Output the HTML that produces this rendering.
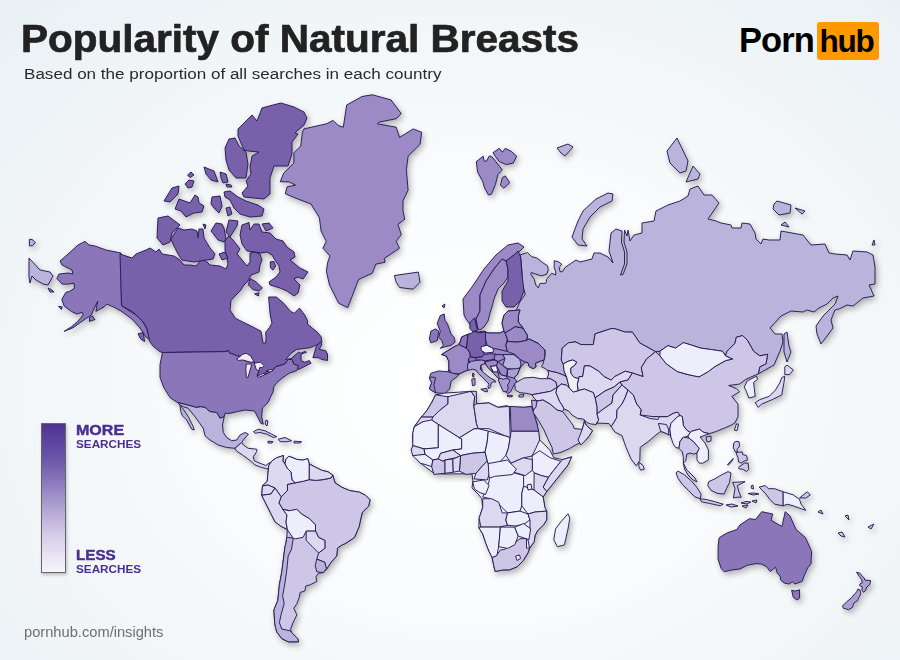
<!DOCTYPE html>
<html><head><meta charset="utf-8">
<style>
html,body{margin:0;padding:0;}
body{width:900px;height:660px;position:relative;overflow:hidden;
background:radial-gradient(ellipse 650px 520px at 470px 390px,#ffffff 0%,#fbfcfd 35%,#f2f6f8 70%,#eaf1f5 100%);
font-family:"Liberation Sans",sans-serif;}
.tx{position:absolute;white-space:nowrap;transform-origin:0 0;line-height:1.15;}
.t{left:20.6px;top:15.6px;font-size:39.5px;font-weight:bold;color:#222;-webkit-text-stroke:0.7px #222;transform:scaleX(1.025);}
.st{left:23.8px;top:65.4px;font-size:15.5px;color:#2a2a2a;transform:scaleX(1.101);}
.logo1{left:739px;top:20.5px;font-size:34.5px;font-weight:bold;color:#000;letter-spacing:-0.9px;}
.logobox{position:absolute;left:817px;top:22px;width:62px;height:38px;background:#ff9900;border-radius:3px;}
.logo2{left:819.5px;top:23px;font-size:31.5px;font-weight:bold;color:#000;letter-spacing:-1.3px;}
.bar{position:absolute;left:41px;top:423px;width:23px;height:148px;border:1px solid #666;box-shadow:1px 2px 3px rgba(0,0,0,0.22);background:linear-gradient(#4d3394 0%,#6d58aa 25%,#a193cb 50%,#d5cce8 75%,#f8f5fc 100%);}
.lg1{font-size:14.8px;font-weight:bold;color:#4b2f90;-webkit-text-stroke:0.45px #4b2f90;}
.lg2{font-size:10.4px;font-weight:bold;color:#4b2f90;}
.ft{left:24.4px;top:624.0px;font-size:14.2px;color:#6f6f6f;transform:scaleX(1.034);}
</style></head><body>
<svg width="900" height="660" viewBox="0 0 900 660" style="position:absolute;left:0;top:0">
<defs>
<filter id="sh" x="-5%" y="-5%" width="110%" height="110%">
<feGaussianBlur in="SourceAlpha" stdDeviation="3"/>
<feOffset dx="2" dy="3" result="b"/>
<feComponentTransfer><feFuncA type="linear" slope="0.3"/></feComponentTransfer>
<feMerge><feMergeNode/><feMergeNode in="SourceGraphic"/></feMerge>
</filter>
</defs>
<g filter="url(#sh)" stroke="#261a52" stroke-width="0.95" stroke-linejoin="round">
<path fill="#8a76b8" d="M60,261 67,255 78,245 85,241.4 89,245 95,246 106,250 121,253 121.5,305.6 128,310 136,315 143,322 147,329 150,340 146,337 140,328 132,319 121,311 113.2,306.8 106.8,304.1 104.1,306.8 95.9,311.4 97.7,301.4 93.2,310.5 91.4,315 85.9,318.6 79.5,323.2 73.2,327.7 64.1,331.4 71.4,326.8 77.7,321.4 83.2,315 82.3,312.3 76.8,314.1 71.4,311.4 64.1,305.9 61.8,299.5 65.9,292.3 69.5,291.4 74.5,288.2 74.1,283.2 68.6,284.1 62.3,284.1 56.8,278.6 59,274 68,273 73,274 72,270 62,265Z"/>
<path fill="#8a76b8" d="M89.5,317.7 92.3,315.9 95,319.5 89.5,321.4Z"/>
<path fill="#8a76b8" d="M58.6,306.4 62.3,306.8 61.4,309.5Z"/>
<path fill="#bab3dc" d="M29.4,239.4 32,239.4 35.3,242.5 32.5,245.8 29.4,245.8Z"/>
<path fill="#8a76b8" d="M48,288 52,290 54,292 50,292Z"/>
<path fill="#bab3dc" d="M29,258 40,270 50,272 53,276 48,285 43,284 36,280 32,276 30,283 29,277Z"/>
<path fill="#7961ab" d="M120,254 132,258 136,254 146,250 150,248 156,252 159,249 162,254 174,256 180,260 184,265 190,265 196,266 202,259 207,262 210,265 220,266 226,269 228,264 227,258 225,250 225,240 229,236 233,240 237,245 240,249 237,254 243,261 247,266 250,262 250,253 255,252 260,254 262,260 260,265 259,272 251,275 248,281 244,285 240,291 235,296 231,300.5 230,310 235.5,318.4 250.9,326 261,331.2 263,343 265.6,343.2 266.1,337.7 265.6,332.3 269.3,327.7 272,323.2 270.2,315 268.6,297 276.4,297 284,303.6 290.5,311.4 294.4,313.3 299.5,308 304.7,315 307.5,320.5 307.5,324.1 312.9,328.6 317.5,332.3 321.1,336.8 322,342.3 316.5,345 310.2,347.7 302.9,348.6 296.5,349.5 291.1,353.2 285.6,359.5 291.1,358.6 298.4,352.3 301.1,353.2 304.7,351.4 306.5,352.3 301.1,354.1 301.1,360.5 304.7,362.3 309.3,360.5 311.1,363.2 298.4,369.5 296.5,365.9 293.8,364.1 292,359.5 288.4,359.5 284.7,364.1 275.6,366.8 273,370.2 266.8,373.8 258.8,376.4 257,375.6 258.8,371.1 254.3,362.2 246.3,361.3 240.1,356.4 236.6,355.6 229.4,352.9 228.6,350.7 225,351.6 162.5,352.5 160,351.7 153.5,346.6 149.7,341.5 147,328.7 143.3,322 133,312 121.5,305.6Z"/>
<path fill="#7961ab" d="M187.6,175 191,172 194,175 190,177.6Z"/>
<path fill="#7961ab" d="M185,184 189,180 194,181 192,187 188,188Z"/>
<path fill="#7961ab" d="M164,201 172,188 179,186 178,194 170,202Z"/>
<path fill="#7961ab" d="M175,209 179,199 190,203 195,195 198,197 199,203 204,206 202,212 194,213 186,217 181,211Z"/>
<path fill="#7961ab" d="M204,167 214,171 218,182 211,180 206,174Z"/>
<path fill="#7961ab" d="M220,172 226,174 228,182 223,183 221,178Z"/>
<path fill="#7961ab" d="M226,184 231,185 232,187 227,187Z"/>
<path fill="#7961ab" d="M212,197 220,196 222,206 219,213 214,208 211,204Z"/>
<path fill="#7961ab" d="M224,192 230,191 238,197 246,201 258,205 264,209 262,216 250,217 240,214 234,208 230,200 225,197Z"/>
<path fill="#7961ab" d="M226,208 230,207 232,214 228,216Z"/>
<path fill="#7961ab" d="M158,218 168,216 180,225 172,233 170,242 163,245 157,238Z"/>
<path fill="#7961ab" d="M171,239 178,228 184,230 192,229 197,231 198,238 199,229 203,229 204,238 210,248 215,254 213,259 206,260 194,262 182,260 178,254 174,246Z"/>
<path fill="#7961ab" d="M203,224 206,225 205,229Z"/>
<path fill="#7961ab" d="M211,231 216,223 222,224 224,228 226,239 224,242 218,240Z"/>
<path fill="#7961ab" d="M226,232 229,220 238,221 237,226 230,237Z"/>
<path fill="#7961ab" d="M219,254 225,252 228,258 222,260Z"/>
<path fill="#7961ab" d="M242,225 249,222.5 250,230 254,224 259,224 262,232 270,233 276,239 283,241 287,247 294,252 295,257 290,260 300,268 308,272 303,279 298,277 294,279 300,285 298,293 294,296 287,291 280,288 270,285 269,282 276,277 280,272 279,266 275,260 272,255 267,252 261,253 255,252 247,251 242,244 240,235Z"/>
<path fill="#7961ab" d="M262,224 269,223 273,228 266,231Z"/>
<path fill="#7961ab" d="M270.2,261.8 274,261.5 275.6,266 273,270.1 270.5,268Z"/>
<path fill="#7961ab" d="M250,278.6 256,281.8 262.4,288 259,291 253,289.6 248.4,285Z"/>
<path fill="#7961ab" d="M254.6,294 259,292.7 258.5,296Z"/>
<path fill="#7961ab" d="M138,333.8 143.3,332.5 144.6,341.5 140.7,339Z"/>
<path fill="#7961ab" d="M312.9,357.7 316.5,345.9 320.2,342.3 322,344.1 319.3,349.5 325.6,350.5 327.5,354.1 327.5,360.5 322,359.5 318.4,357.7Z"/>
<path fill="#7961ab" d="M225,148 229,139 235,138 239,146 246,152 248,164 246,178 236,178 229,170 226,160Z"/>
<path fill="#7961ab" d="M238,129 252,115 257,121 262,108 273,105 281,103 294,107 304,112 307,118 304,125 298,130 295,133 298,134 292,142 292,154 288,166 274,166 270,178 270,194 264,199 244,197 242,193 248,186 246,181 251,174 250,167 252,156 259,152 248,151 244,150 238,136Z"/>
<path fill="#8a76b8" d="M162.5,352.5 225,351.6 228.6,350.7 229.4,352.9 236.6,355.6 240.1,356.4 246.3,361.3 254.3,362.2 258.8,371.1 257,375.6 258.8,376.4 266.8,373.8 273,370.2 275.6,366.8 284.7,364.1 288.4,359.5 292,359.5 293.8,364.1 298.4,365.5 297,370.5 289.3,373.2 286.5,375 281,379 277,382.5 274,386.2 273,392 270,398 268.8,401 266.7,404 262.4,408 261.7,416.7 263.3,424.2 260.8,423.3 258.3,418.3 255,411.7 253.3,410.8 245,410 236.7,411.7 230,413.3 225,413.3 224.2,416.7 220,418.3 216.7,412.5 210,411.7 205,407.5 200.8,406.7 196.7,407.5 187.5,405 177.5,402.5 170.2,397.8 163.8,387.6 160,377.3 160,364.5Z"/>
<path fill="#bab3dc" d="M177.5,402.5 180,405 183.3,406.7 188.3,408.3 195,416.7 199.2,422.5 203.3,428.3 205,435.8 210,440 218.3,445 226.7,447.5 235,448.3 241.7,442.5 243.3,440 248.3,434.2 245,432.5 240,435 236.7,440 231.7,440.8 226.7,437.5 223.3,432.5 222.5,425 224.2,416.7 220,418.3 216.7,412.5 210,411.7 205,407.5 200.8,406.7 196.7,407.5 187.5,405Z"/>
<path fill="#bab3dc" d="M180,405 183.3,409.2 188.3,416.7 193.3,426.7 194.2,430 191.7,429.2 186.7,420 182.5,415.8 180.8,411.7Z"/>
<path fill="#dcd8f0" d="M235,448.3 241.7,442.5 243.3,445 248.3,448.3 256.7,449.2 256.7,451.7 253.3,456.7 254.2,460.8 260,463.3 265.8,465.5 270,462.5 272,465 268.7,466 268.3,469 261.7,467.5 255,465 250,460.5 243.3,455.5 236.5,451Z"/>
<path fill="#cdc6e6" d="M253.3,431.7 258.3,429.2 265,430.8 271.7,434.2 276.7,436.7 273.3,437.5 266.7,434.2 260,432.5 255,433.3Z"/>
<path fill="#cdc6e6" d="M278.3,439.2 285,437.5 291.7,440.8 286.7,441.7 280,441.7Z"/>
<path fill="#cdc6e6" d="M268,441.2 273,441.7 272,443 268,443Z"/>
<path fill="#cdc6e6" d="M294,441.2 301.7,441.7 300,443 294,443Z"/>
<path fill="#cdc6e6" d="M266,420 268,421 267,426 265,424Z"/>
<path fill="#9c8ac6" d="M304.1,128.9 326.3,123.8 333.1,120.4 338.2,125.5 343.3,127.2 346.7,105 362,96.5 372.3,94.8 391,99.9 401.3,113.6 396.2,118.7 379.1,122.1 377.4,123.8 396.2,127.2 399.6,137.4 413.2,128.9 421.7,132.3 420,144.3 408.1,156.2 406.4,169.8 408.1,190.3 403,200.5 403,210.7 404.7,219.3 397.9,224.4 401.3,234.6 396.2,241.4 399.6,248.2 384.2,258.5 385,262.3 375.9,264.1 372.3,273.2 358.6,279.5 356.8,284.1 352.3,295.9 347.7,307.7 338.6,303.2 335,295.9 329.5,285 326.4,271.4 327.7,262.3 330,256 322.9,248.2 326.3,241.4 321.1,231.2 319.4,217.6 310.9,203.9 297.3,198.8 285.3,193.7 287,186.9 295.6,185.2 288.8,181.8 280.2,181.8 283.6,173.2 293.9,163 293.9,152.8 300.7,146 302.4,132.3Z"/>
<path fill="#bab3dc" d="M394.4,275.5 406.4,273.8 418.3,272.1 420,282.3 413.2,289.2 399.6,287.5 396.2,282.3Z"/>
<path fill="#cdc6e6" d="M268.7,465.6 271.8,461 276.5,457.8 283.5,455.5 282.8,461 285,464 285.9,459.4 289,456.2 296.8,459.4 303,460.1 307.7,458.6 309.3,464 315.5,467.2 321.8,470.3 328,471.8 332.7,475 335,482.8 342,487.4 349.8,490.6 359.2,492.1 365.4,495.2 370.1,499.9 368.6,506.2 362.3,512.4 360.8,518.6 359.2,526.4 354.5,537.4 345.2,543.6 342.3,544.8 337.5,548 336.7,555.9 331.1,562.3 326.4,569.4 323.2,572.6 318.4,573.4 316,576.6 316.8,581.4 310.5,584.6 305.7,586.1 304.9,590.9 300.1,592.5 299.3,597.3 296.9,603.6 293.8,608.4 296.9,614.8 293,622.7 290.6,629.1 291.4,632.3 297.7,638.6 298.5,641.8 288.2,641.8 281.8,638.6 277,632.3 275.5,627.5 274.7,622.7 273.9,610 277.8,600.5 279.4,584.6 281.8,571.8 283.4,559.1 285,546.4 285.9,543.6 286.7,537.4 287.4,529.6 281.2,526.4 275,521.8 270.3,512.4 264.8,501.5 261.7,495.2 262.5,485.9 267.2,481.2 268,473.4Z"/>
<path fill="#cdc6e6" d="M309.3,479.6 315.5,480.4 323.3,479.6 331.1,478 332.7,475 335,482.8 342,487.4 349.8,490.6 359.2,492.1 365.4,495.2 370.1,499.9 368.6,506.2 362.3,512.4 360.8,518.6 359.2,526.4 354.5,537.4 345.2,543.6 342.3,544.8 337.5,548 336.7,555.9 331.1,562.3 326.4,569.4 324.8,562.3 316.8,559.1 318.6,553 324.9,548.3 324.9,540.5 318.6,537.4 315.5,531.1 315.5,524.9 309.3,518.6 301.5,514 296.8,509.3 290.6,510.8 282.8,509.3 278.9,503 281.2,496.8 287.4,490.6 287.4,484.4 295.2,482.8 303.4,481.2Z"/>
<path fill="#eceefc" d="M285.9,459.4 289,456.2 296.8,459.4 303,460.1 307.7,458.6 309.3,464 309.3,479.6 303.4,481.2 295.2,482.8 292,480 291,472 287,468 285,464Z"/>
<path fill="#dcd8f0" d="M309.3,464 315.5,467.2 321.8,470.3 328,471.8 332.7,475 331.1,478 323.3,479.6 315.5,480.4 309.3,479.6Z"/>
<path fill="#dcd8f0" d="M268.7,465.6 271.8,461 276.5,457.8 283.5,455.5 282.8,461 285,464 287,468 291,472 292,480 295.2,482.8 287.4,484.4 287.4,490.6 281.2,496.8 275,488 268,485 262.5,485.9 267.2,481.2 268,473.4Z"/>
<path fill="#dcd8f0" d="M262.5,485.9 268,485 275,488 271,494 264,495 261.7,495.2Z"/>
<path fill="#dcd8f0" d="M261.7,495.2 264,495 271,494 275,488 281.2,496.8 278.9,503 282.8,509.3 287,515 286,522 287.4,529.6 281.2,526.4 275,521.8 270.3,512.4 264.8,501.5Z"/>
<path fill="#eceefc" d="M282.8,509.3 289,510.8 296.8,509.3 301.5,514 309.3,518.6 315.5,524.9 315.5,531.1 306.2,531.1 303,537.4 295.2,538.9 293,538 287.4,529.6 286,522 287,515Z"/>
<path fill="#dcd8f0" d="M306.2,531.1 315.5,531.1 318.6,537.4 324.9,540.5 324.9,548.3 318.6,553 312.4,546.7 306.2,540.5Z"/>
<path fill="#bab3dc" d="M286.7,537.4 293,538 293,540 291.4,549.5 288.2,555.9 286.6,571.8 284.2,587.7 282.6,595.7 284.2,603.6 281,614.8 279.4,622.7 281.8,629.1 289.8,630.7 291.4,632.3 297.7,638.6 298.5,641.8 288.2,641.8 281.8,638.6 277,632.3 275.5,627.5 274.7,622.7 273.9,610 277.8,600.5 279.4,584.6 281.8,571.8 283.4,559.1 285,546.4 285.9,543.6Z"/>
<path fill="#bab3dc" d="M316.8,559.1 324.8,562.3 326.4,568.6 323.2,572.6 316.8,571.8 315.2,565.5Z"/>
<path fill="#bab3dc" d="M520,255 527.5,252.5 531.7,256.7 536.7,257.9 542.5,262.5 547.5,265.8 548.3,270 546.7,274.2 541.7,275.8 535.8,274.2 531.3,272.5 530.8,274.2 534.2,279.2 535.8,285 538.3,287.9 540,283.3 545.8,283.3 546.7,279.2 551.7,273.3 555.8,275 555.8,271.7 554.2,267.5 554.2,260.8 558.3,261.7 561.7,264.2 559.2,267.5 560,271.7 562.5,271.7 565,267.5 576,260 580,262 592,259 594,253 600,253 608,257 613,263 609,251 611,233 616,229 622,231 621.5,242 624.5,252 624.5,264 620.5,275 623,274.5 627,264 627,252 624,242 624.5,230 627,236 628,230 630,241 634,235 642,233 642,223 654,221 656,211 668,205 680,201 688,196 690,189 698,186 704,195 712,195 719,203 708,219 716,221 721,223 731,225 732,228 741,228 742,223 750,224 755,233 756,239 761,244 763,239 769,240 780,240 781,231 803,235 811,245 825,244 829,253 835,254 847,255 850,260 853,251 867,252 873,255 875,267 875,284 869,285 874,296 863,298 853,306 847,305 839,309 835,310 831,320 833,328 821,344 817,334 816,326 823,316 835,304 838,296 833,298 827,304 819,308 814,312 807,310 803,312 791,311 781,316 770,328 775,334 782,334 783,342 780,351 774,365 760,373 758.3,373.8 759.8,366.8 766.1,363.7 767.6,354.3 759.8,355.9 753.6,351.2 747.4,340.3 742.7,335.6 736.4,337.2 734.9,343.4 727.1,351.2 725.5,355.9 722.4,351.2 711.5,349.6 700.6,348.1 691.2,345 683.4,342.6 675.6,348.1 667.8,345.7 660,351.2 655.6,351.7 639.6,342.8 632.4,332.1 625.3,332.1 614.7,328.6 611.1,328.6 595.1,333.9 593.3,344.6 580.9,344.6 575.6,341.9 568.4,342.8 562.2,348.1 561.3,360 563.3,364 564,370.7 566,376 564,375.3 557.3,372.7 548,370.7 545.3,368.7 541.3,366.7 542.7,364.7 544,360 544.8,356.2 544.8,349.9 538.6,343.7 529.2,339 526.1,340.6 527.6,335.9 523,328.1 518.3,322 518.3,315.6 516.7,309.4 519.8,302.1 525.3,294.3 521.4,281.8 522.2,274 520.6,256.8Z"/>
<path fill="#bab3dc" d="M557,148 568,144 573,147 565,156 561,153Z"/>
<path fill="#bab3dc" d="M572,237 578,221 583,211 596,199 608,193 613,194 612,201 600,207 590,217 583,229 582,239 587,246 578,245Z"/>
<path fill="#bab3dc" d="M667,151 677,138 688,161 686,171 680,173 670,163Z"/>
<path fill="#bab3dc" d="M686,182 693,166 700,174 698,179Z"/>
<path fill="#bab3dc" d="M774,204 777,201 791,205 790,213 779,215 773,209Z"/>
<path fill="#bab3dc" d="M795,208 805,211 802,214Z"/>
<path fill="#bab3dc" d="M781,225 785,222 789,227Z"/>
<path fill="#bab3dc" d="M872,245 874,240 875,245Z"/>
<path fill="#bab3dc" d="M784,334 787,332 789,346 791,352 787,362 784,352Z"/>
<path fill="#9c8ac6" d="M520,310 508,311 504,315 502,323 504,331 500,333 488,333 484,331 478,332 476.2,331 471.5,334.3 468,334.3 461.6,337 460.6,341 458.7,344.4 457.4,345.3 455.6,346 447.8,350.7 441.6,354.5 446.5,356.2 448.9,361.6 448.9,368.6 448.1,371.8 455.9,374.1 459,374.1 465.2,371 469.9,369.4 471.5,367.1 477.7,368.6 480.8,373.3 485.5,379.6 482.4,371.8 480.8,365.5 484,362.4 487.1,365.5 493.3,373.3 499.6,379.6 501.1,385.8 504.2,390.5 507.4,393.6 510.5,392 513.6,385.8 516.7,381.1 514,378 517.3,374.7 520,368 525.3,362 528,362.7 529.3,366.7 533.3,368.7 536,366.7 535.3,363.3 540,361.3 544,360 544.8,356.2 544.8,349.9 538.6,343.7 529.2,339 526.1,340.6 527.6,335.9 523,328.1 518.3,322 518.3,315.6Z"/>
<path fill="#9c8ac6" d="M464,315 463,299 472,287 484,269 496,255 508,245 518,243 524,247 520,251 514,255 506,261 502,259 494,269 486,281 480,295 480,311 476,319 478,329 472,327 466,319Z"/>
<path fill="#9c8ac6" d="M478,329 476,319 480,311 480,295 486,281 494,269 502,259 506,261 508,269 508,277 504,283 498,289 494,299 492,307 490,313 488,321 484,327 480,330Z"/>
<path fill="#7961ab" d="M506,261 514,255 518,251 520.6,256.8 522,275 524,291 520,301 514,307 506,307 502,301 502,291 508,281 508,269Z"/>
<path fill="#7961ab" d="M469.9,322.4 474.6,317.7 476.2,325.5 477.7,330.2 473,331.7 469.9,328.6Z"/>
<path fill="#8a76b8" d="M440.3,315.6 444.2,314 445,320.3 447.3,323.4 449.6,329.6 451.2,334.3 454.3,337.4 455.1,342.1 451.2,345.2 445,346.8 440.3,348.4 443.4,345.2 441.8,340.6 438.7,337.4 440.3,331.2 437.2,323.4Z"/>
<path fill="#8a76b8" d="M429.4,339 430.9,331.2 435.6,328.9 438.7,331.2 437.2,340.6 430.9,342.9Z"/>
<path fill="#9c8ac6" d="M442,306 445,304 444,308Z"/>
<path fill="#7961ab" d="M468,334.3 472.7,332.8 473,331.2 479.3,332.8 485.5,332 485.9,344.4 481.2,348.3 484.3,354.5 482,356.9 475,357.7 470.3,356.9 469.5,352.2 466.4,348.3 467.2,340.6Z"/>
<path fill="#8a76b8" d="M461.6,337 468,334.3 467.2,340.6 466.4,348.3 460.2,345.2 458.7,344.4 460.6,341Z"/>
<path fill="#eceefc" d="M480.8,346.8 487.1,345.2 493.3,348.4 493.3,352.3 485.5,353 481.6,350.7Z"/>
<path fill="#9c8ac6" d="M485.5,332 488,333 500,333 504,331 505,332.8 507.4,339 505.8,345.2 507.4,351.5 501.1,349.9 493.3,348.4 487.1,345.2 485.5,339Z"/>
<path fill="#9c8ac6" d="M505,332.8 510.5,329.6 515.2,326.5 523,328.1 527.6,335.9 526.1,340.6 516.7,342.1 507.4,341.4 507.4,339Z"/>
<path fill="#9c8ac6" d="M504,331 502,323 504,315 508,311 520,310 518.3,315.6 518.3,322 523,328.1 515.2,326.5 510.5,329.6 505,332.8Z"/>
<path fill="#9c8ac6" d="M507.4,341.4 516.7,342.1 526.1,340.6 529.2,339 538.6,343.7 544.8,349.9 544.8,356.2 544,360 540,361.3 535.3,363.3 536,366.7 533.3,368.7 529.3,366.7 528,362.7 525.3,362 519.8,359.3 515.2,354.6 507.4,351.5 505.8,345.2Z"/>
<path fill="#9c8ac6" d="M457.4,345.3 458.7,344.4 460.2,345.2 466.4,348.3 469.5,352.2 470.3,356.9 468.4,359 468.4,362.4 469.9,369.4 465.2,371 459,374.1 451.2,373.3 448.9,368.6 448.9,361.6 446.5,356.2 441.6,354.5 447.8,350.7 455.6,346Z"/>
<path fill="#9c8ac6" d="M430.9,373.3 438.7,371 448.1,371.8 455.9,374.1 459,374.1 457.4,376.4 451.2,381.1 449.6,388.9 445,393.6 435.6,392.8 429.4,388.9 431.7,382.7 429.4,378Z"/>
<path fill="#9c8ac6" d="M429.4,378 431.7,377 435.6,377.6 433.8,385 435.6,392.8 429.4,388.9 431.7,382.7Z"/>
<path fill="#8a76b8" d="M475,357.7 482,356.9 484.3,354.5 488.6,353.8 496,354 495,359.2 485.5,360.8 476.5,360Z"/>
<path fill="#8a76b8" d="M468.4,359 470.3,356.9 475,357.7 476.5,360 475.8,362.5 470,363.1Z"/>
<path fill="#aca0d2" d="M467.5,363.8 471.7,361.3 476.7,360.4 481.7,360 485,360.8 484.6,363.8 480.8,365 480.4,369.2 483.3,372.5 487.5,375.8 490.8,378.3 495,380.4 495.8,382.1 492.9,381.7 490.8,384.2 490.8,386.7 488.8,388.8 487.9,386.3 489.2,384.2 486.7,381.7 482.5,377.5 478.3,373.3 475.8,370 472.5,369.2 469.2,370 467.5,369.2Z"/>
<path fill="#aca0d2" d="M480.8,389.2 486.7,388.3 487.5,391.7 485,391.7Z"/>
<path fill="#aca0d2" d="M471.7,379.2 475,378.3 475,385 472.5,385.8Z"/>
<path fill="#aca0d2" d="M472.5,373.3 474.2,373.8 473.8,377.1 472.5,376.7Z"/>
<path fill="#9c8ac6" d="M494.9,354.6 502.7,354.6 505,358.5 498,361.6 494.1,359.3Z"/>
<path fill="#bab3dc" d="M502.7,354.6 513.6,354.6 519.8,359.3 521,364 520,368 515.2,369.4 507.4,368.6 502.7,365.5 505,358.5Z"/>
<path fill="#aca0d2" d="M507.4,369.4 516.7,368.6 520,368 517.3,374.7 513.6,378 507.4,376.4Z"/>
<path fill="#9c8ac6" d="M498,361.6 502.7,365.5 507.4,369.4 506.6,376.4 501.1,374.9 496.4,365.5Z"/>
<path fill="#eceefc" d="M490.2,366.3 496.4,365.5 498,371.8 493.3,371.8Z"/>
<path fill="#9c8ac6" d="M485.5,361.6 494.1,360 498,361.6 496.4,365.5 490.2,366.3 493.3,371.8 488.6,368.6 485.5,364Z"/>
<path fill="#bab3dc" d="M498,371.8 501.1,374.9 506.6,376.4 507.4,379.6 501.1,382.7 499.6,379.6Z"/>
<path fill="#aca0d2" d="M498.3,380 500,378.3 503.3,379.2 506.7,378.3 510,380 509.2,382.5 507.5,385 508.3,388.3 506.7,391.7 503.3,391.7 500,384.2Z"/>
<path fill="#aca0d2" d="M507.5,395 512.5,395.5 512,396.9 507.5,396.5Z"/>
<path fill="#cdc6e6" d="M519,395 524,394.5 523,397 519,397Z"/>
<path fill="#9c8ac6" d="M476.3,161.6 483.2,156.2 484.1,161.1 486.6,161.1 489.1,156.2 491.5,156.2 502.4,170 497.9,174.4 495.5,184.3 491.5,194.1 488.6,195.1 484.6,188.2 482.7,181.3 477.7,172.4Z"/>
<path fill="#9c8ac6" d="M493,152.7 499.4,148.3 502.4,152.2 505.3,148.3 511.2,151.3 516.7,156.2 513.2,163.1 506.3,164.6 499.4,161.6 495.5,156.7Z"/>
<path fill="#9c8ac6" d="M500.4,185.2 502.4,177.4 505.3,175.9 509.8,182.8 503.8,188.2Z"/>
<path fill="#eceefc" d="M435.6,394.9 444.4,393.1 458.7,392.2 471.1,391.3 474.7,396.7 476.4,403.8 488.9,402.9 497.8,407.3 506.7,405.6 510.2,407.3 524.4,407.3 531.6,406.4 534,414 537,424 539.6,440 546,446 550.2,450.7 553.8,457.8 562.7,459.6 571.6,456.9 568,464.9 560.9,473.8 553.8,482.7 546.7,491.6 543.1,496.9 544.9,507.6 546.7,511.1 546.7,520 543.6,524.7 537.4,530.9 535,535.6 534.2,541.8 529.6,548.1 528,552.8 523.3,560.6 517.1,566.8 509.3,569.9 503,569.9 495.2,571.5 493.7,565.2 492.1,557.4 489,551.2 485.9,543.4 482.8,534 478.9,527.8 479.1,518.2 482.7,507.6 481.8,498.7 479.1,495.1 472,488 472.9,480.9 472,473.8 457.8,473.8 444.4,474 433.8,473.1 426.7,467.8 419.6,462.4 416,457.1 411.6,450 413.3,444.7 412.4,435.8 414.2,426.9 421.3,417.1 426.7,410.9 432,402Z"/>
<path fill="#eceefc" d="M553.8,539.6 555.6,528.9 560.9,521.8 568,513.8 569.8,518.2 568,528.9 564.4,544.9 557.3,546.7Z"/>
<path fill="#cdc6e6" d="M435.6,394.9 448,396.7 448,403.8 439.1,410.9 432.9,417.1 421.3,417.1 426.7,410.9 432,402Z"/>
<path fill="#dcd8f0" d="M421.3,417.1 432.9,417.1 432,421.6 423.1,421.6 414.2,426.9Z"/>
<path fill="#dcd8f0" d="M448,396.7 471.1,391.3 474.7,396.7 473.8,405.6 476.4,423.3 478.2,428.7 473.9,428.9 459.4,437.8 438.3,424.4 431.7,420 432.9,417.1 439.1,410.9 448,403.8Z"/>
<path fill="#cdc6e6" d="M471.1,391.3 476.4,391.3 476.4,403.8 473.8,405.6 474.7,396.7Z"/>
<path fill="#dcd8f0" d="M476.4,403.8 488.9,402.9 497.8,407.3 509.3,406.4 510.2,437.6 504.9,435.8 488.9,428.7 478.2,428.7 476.4,423.3 473.8,405.6Z"/>
<path fill="#9c8ac6" d="M510.2,406.4 524.4,407.3 531.6,406.4 534,414 537,424 538.7,431.3 511.1,431.3Z"/>
<path fill="#eceefc" d="M412.8,433.3 414.2,426.9 423.1,421.6 431.7,420 438.3,424.4 438.3,447.8 423.9,448.9 412.8,445.6Z"/>
<path fill="#eceefc" d="M438.3,424.4 459.4,437.8 461.7,438.9 461.7,448.9 452.8,450 440.6,453.3 438.3,458.9 432.8,460 425,454.4 423.9,448.9 438.3,447.8Z"/>
<path fill="#eceefc" d="M459.4,437.8 473.9,428.9 478.2,428.7 488.3,431.1 487.2,442.2 485,452.2 471.7,453.3 460.6,455.6 452.8,450 461.7,448.9 461.7,438.9Z"/>
<path fill="#eceefc" d="M488.3,431.1 504.9,435.8 510.2,437.6 508.4,448.2 505.8,455.3 499.6,462.4 488.9,466 487.2,461.1 485,452.2 487.2,442.2Z"/>
<path fill="#cdc6e6" d="M460.6,455.6 471.7,453.3 485,452.2 487.2,461.1 481.7,466.7 476.1,473.3 466.1,474.4 459.4,471.1Z"/>
<path fill="#dcd8f0" d="M510.2,437.6 511.1,431.3 538.7,431.3 539.6,440 536,448 532,456 523.6,457.8 511.1,463.1 505.8,455.3 508.4,448.2Z"/>
<path fill="#dcd8f0" d="M511.1,463.1 523.6,457.8 532.4,459.6 532.4,470.2 525.3,475.6 512.9,472 509.3,468.4Z"/>
<path fill="#eceefc" d="M532,456 539.6,450.7 550.2,457.8 560.9,461.3 553.8,470.2 548.4,477.3 541.3,475.6 534.2,472.9 532.4,470.2 532.4,459.6Z"/>
<path fill="#dcd8f0" d="M560.9,461.3 562.7,459.6 571.6,456.9 568,464.9 560.9,473.8 553.8,482.7 546.7,491.6 543.1,487 548.4,477.3 553.8,470.2Z"/>
<path fill="#dcd8f0" d="M534.2,472.9 541.3,475.6 548.4,477.3 543.1,487 546.7,491.6 543.1,496.9 534,490 534,482Z"/>
<path fill="#eceefc" d="M489.8,475.6 496.9,473.8 511.1,472 523.6,475.6 523.6,486.2 521.8,493.3 521.8,505.8 520,511.1 507.6,512.9 502.2,507.6 496.9,502.2 489.8,498.7 482.7,496.9 486,490 489,482Z"/>
<path fill="#dcd8f0" d="M482.7,498.7 491.6,498.7 498.7,502.2 502.2,512.9 507.6,512.9 505.8,520 507.6,525.3 498.7,527.1 480.9,527.1 479.1,518.2 482.7,507.6Z"/>
<path fill="#eceefc" d="M521.8,493.3 523.6,486.2 534,490 543.1,496.9 544.9,507.6 546.7,511.1 535,512 528,514 521.8,505.8Z"/>
<path fill="#eceefc" d="M507.6,512.9 520,511.1 528,514 530,520 524,524 516,526 507.6,525.3 505.8,520Z"/>
<path fill="#dcd8f0" d="M528,514 535,512 546.7,511.1 546.7,520 543.6,524.7 537.4,530.9 535,535.6 534.2,541.8 529.6,548.1 528,540 530,530 530,520Z"/>
<path fill="#cdc6e6" d="M492.1,557.4 493.7,565.2 495.2,571.5 503,569.9 509.3,569.9 517.1,566.8 523.3,560.6 528,552.8 529.6,548.1 526.5,548.1 526.5,538.7 519.9,538.7 512.4,545 503.8,549.7 500.7,549.7 496,556Z"/>
<path fill="#dcd8f0" d="M481.7,466.7 487.2,461.1 488.9,466 490,472 487.2,480 473.9,478.9 476.1,473.3Z"/>
<path fill="#eceefc" d="M472.7,481.8 483.6,480 489.1,485.5 485.5,494.5 480,492.7 474.5,489.1Z"/>
<path fill="#eceefc" d="M488.2,463.6 507.3,460 516.4,469.1 512.7,474.5 494.5,476.4 489.1,478.2Z"/>
<path fill="#eceefc" d="M480.9,527.1 498.7,527.1 500.4,527.1 498.7,546.7 496.9,555.6 496,556 492.1,557.4 489,551.2 485.9,543.4 482.8,534 478.9,527.8Z"/>
<path fill="#eceefc" d="M500.4,527.1 514.7,527.1 518.2,536 514.7,544.9 507.6,548.4 498.7,546.7Z"/>
<path fill="#eceefc" d="M514.7,527.1 523.6,523.6 530.7,528.9 528.9,539.6 518.2,536Z"/>
<path fill="#e9ebee" d="M527,485 531,484 532,489 528,490Z"/>
<path fill="#dcd8f0" d="M411.1,450 412.8,445.6 423.9,448.9 425,454.4 417.2,455.6 412.8,455.6Z"/>
<path fill="#eceefc" d="M412.8,455.6 425,454.4 432.8,460 431.7,466.7 425,464.4 420.6,463.3 416.1,458.9Z"/>
<path fill="#cdc6e6" d="M432.8,460 438.3,458.9 442.8,461.1 445,460 445,473.3 433.9,474.4 431.7,466.7Z"/>
<path fill="#dcd8f0" d="M438.3,458.9 440.6,453.3 452.8,450 460.6,455.6 456.1,457.8 445,460 442.8,461.1Z"/>
<path fill="#dcd8f0" d="M445,460 452.8,458.9 453.3,472.2 445,473.3Z"/>
<path fill="#dcd8f0" d="M452.8,458.9 456.1,457.8 460.6,455.6 459.4,471.1 453.3,472.2Z"/>
<path fill="#eceefc" d="M515.6,556.1 519.5,555 520.6,558.5 517,560.5Z"/>
<path fill="#cdc6e6" d="M514.7,383.3 524,378 533.3,377.3 540,378.7 550.7,378.7 556,382 557.3,387.3 550.7,391.3 540,393.3 532,394.7 526.7,393.3 520,392.7 515.3,390Z"/>
<path fill="#cdc6e6" d="M548,370.7 557.3,372.7 564,375.3 566.7,377.3 568,382.7 569.3,388 566.7,385.3 561.3,384 557.3,387.3 556,382 550.7,378.7 547.3,378 548.7,374Z"/>
<path fill="#dcd8f0" d="M532,394.7 540,393.3 550.7,391.3 557.3,387.3 562,384 556.9,388.1 556,392.6 559.6,401.4 562.7,406 564,409 562.5,411.6 557,410 550,404 543,400 537,401 534,398Z"/>
<path fill="#cdc6e6" d="M537,401 543,400 550,404 557,410 562.5,411.6 565.9,415.7 570,421.1 573.4,425.9 574.1,428.6 582.3,429.3 584.3,421.8 584.3,419.8 586.3,425.2 589.1,427.9 592.5,430.7 589.1,436.1 585,440.9 576,444.7 569.3,448.7 560,452.7 553.3,454 552,447.3 548,439.3 544,430 538.7,420.7 533.3,412.7 533.5,406Z"/>
<path fill="#dcd8f0" d="M584.3,421.8 586.3,425.2 589.1,427.9 592.5,430.7 589.1,436.1 585,440.9 580.9,445 578,440 582.3,429.3Z"/>
<path fill="#bab3dc" d="M531.6,400 537,401 536,407 533.5,410 532,406Z"/>
<path fill="#cdc6e6" d="M562.2,348.1 568.4,342.8 575.6,341.9 580.9,344.6 593.3,344.6 595.1,333.9 611.1,328.6 614.7,328.6 625.3,332.1 632.4,332.1 639.6,342.8 655.6,351.7 646.7,358.8 641.3,367.7 643.1,376.6 632.4,373 625.3,371.2 614.7,376.6 611.1,380.1 604,376.6 598.7,371.2 589.8,365.9 584.4,365.9 582.7,376.6 579.1,376.6 578.7,378.7 574,377.3 570.7,373.3 570.7,368 574.7,365.3 576.7,362 572.7,360 568,361.3 563.3,364 561.3,360Z"/>
<path fill="#dcd8f0" d="M578.7,378.7 579.1,376.6 582.7,376.6 584.4,365.9 589.8,365.9 598.7,371.2 604,376.6 611.1,380.1 614.7,376.6 625.3,371.2 632.4,373 628,380 620,382 614,387 605,391 595.1,397.9 593.3,392.6 584.4,389 578,390.7 577.3,384Z"/>
<path fill="#cdc6e6" d="M595.1,397.9 605,391 614,387 620,382 622,385 613,395 612,403 602,410 597,414 596.9,406.8Z"/>
<path fill="#dcd8f0" d="M556.9,388.1 561.3,384 566.7,385.3 569.3,388 573.3,392 578,390.7 584.4,389 593.3,392.6 595.1,397.9 596.9,406.8 597,414 598.7,420 595.9,424.5 590.4,423.9 587,422.5 583.6,419.1 577.5,418.4 572,415 568.6,410.9 564,409 562.7,406 559.6,401.4 556,392.6Z"/>
<path fill="#dcd8f0" d="M597,414 602,410 612,403 613,395 622,385 628,390 625,398 622,404 617,410 616.7,417.8 611.3,426.7 608.9,423.5 597.1,423.1 595.9,424.5 598.7,420Z"/>
<path fill="#dcd8f0" d="M611.3,426.7 616.7,417.8 617,410 622,404 625,398 628,390 633.4,395 636.8,404.1 641.4,409.8 640.2,414.9 652.7,416.6 659.5,416.6 667.5,416.6 673.2,413.2 677.7,412 680,415.5 677.7,416.6 670.9,423.4 669.8,429.1 670.9,437 669.8,434.8 664.1,432.5 660.7,431.4 656.1,434.8 648.2,441.6 640.2,447.3 639.8,460.4 636.2,465.8 630.9,458.7 625.6,446.2 622,435.6 614.9,432Z"/>
<path fill="#dcd8f0" d="M658.4,423.4 666.4,424.5 668.6,429.1 668.6,434.8 664.1,432.5 660.7,431.4Z"/>
<path fill="#dcd8f0" d="M641.4,409.8 652.7,416.6 659.5,416.6 658,419.5 650,418.5 640.2,414.9Z"/>
<path fill="#cdc6e6" d="M632.4,373 643.1,376.6 641.3,367.7 646.7,358.8 655.6,351.7 660,355.9 666.2,363.7 677.2,371.5 688.1,374.6 699,376.9 708.4,371.5 714.6,366.8 725.5,360.6 732.5,359 725.5,355.9 727.1,351.2 734.9,343.4 736.4,337.2 742.7,335.6 747.4,340.3 753.6,351.2 759.8,355.9 767.6,354.3 766.1,363.7 759.8,366.8 758.3,373.8 745.8,379.3 739.6,384 728.6,385.5 736.4,388.6 739.6,391.8 731.8,396.4 738,404.2 738,416.7 734.9,423 730,425.7 716.4,431.4 709.5,433.6 703.9,432.5 699.3,429.1 691.4,431.4 690.2,432.5 686.8,430.2 683.4,425.7 682.3,416.6 680,415.5 677.7,412 673.2,413.2 667.5,416.6 659.5,416.6 652.7,416.6 640.2,414.9 641.4,409.8 636.8,404.1 633.4,395 628,390 622,385 620,382 628,380Z"/>
<path fill="#eceefc" d="M660,351.2 667.8,345.7 675.6,348.1 683.4,342.6 691.2,345 700.6,348.1 711.5,349.6 722.4,351.2 725.5,355.9 732.5,359 725.5,360.6 714.6,366.8 708.4,371.5 699,376.9 688.1,374.6 677.2,371.5 666.2,363.7 660,355.9Z"/>
<path fill="#eceefc" d="M744.2,387.1 747.4,380.8 756.7,376.2 757.5,379.3 753.6,382.4 755.2,396.4 748.9,398 745.8,390.2Z"/>
<path fill="#dcd8f0" d="M755.2,402.7 759.8,399.6 769.2,396.4 775.4,390.2 780.1,382.4 781.7,377.7 784.8,376.2 784,382.4 781.7,394.9 772.3,399.6 761.4,404.2 758.3,407.4Z"/>
<path fill="#dcd8f0" d="M784.8,366.8 787.1,365.2 793.4,369.9 789.5,374.6 784.8,374.6Z"/>
<path fill="#eceefc" d="M670.9,423.4 677.7,416.6 680,415.5 682.3,416.6 683.4,425.7 686.8,430.2 690.2,432.5 688,435.9 682.3,438.2 680,441.6 678.9,448.4 675.5,447.3 673.2,443.9 670.9,437 669.8,429.1Z"/>
<path fill="#cdc6e6" d="M680,441.6 683.4,437 689.1,438.2 693.6,441.6 699.3,448.4 697,453 693.6,454.1 690.2,453 686.8,454.1 685.7,460.9 683.4,463.2 683.4,457.5 682.3,451.8 678.9,448.4Z"/>
<path fill="#eceefc" d="M690.2,432.5 691.4,431.4 699.3,429.1 703.9,432.5 709.5,433.6 700,437 705,443 708.4,450 708.4,459.8 702.7,463.2 699.3,463.2 697,459.8 697,453 699.3,448.4 693.6,441.6 689.1,438.2 688,435.9Z"/>
<path fill="#cdc6e6" d="M683.4,463.2 686.8,470 691,474 695,478 697,482 693,480 688,475 684.5,469Z"/>
<path fill="#dcd8f0" d="M638.9,462.2 643.3,465.8 644.2,469.3 640.7,470.2 638.9,466.7Z"/>
<path fill="#cdc6e6" d="M676,472.9 678,471.1 684.2,474.7 691.3,480.9 696.7,487.1 701.1,494.2 700.2,498.7 694.9,496.9 688.7,490.7 682.4,484.4 678,478.2Z"/>
<path fill="#cdc6e6" d="M700,498.8 706.2,499.5 715.6,501.9 723.3,504.2 720.2,505.8 709.3,503.4 701.6,501.9Z"/>
<path fill="#cdc6e6" d="M708.6,481.7 714,479.3 721.8,474.7 728,471.6 731.1,473.1 729.5,482.4 726.4,488.7 724.1,494.1 717.1,493.3 710.9,490.2 707.8,485.6Z"/>
<path fill="#cdc6e6" d="M732.7,482.4 745.1,481.7 737.3,485.6 738.9,491.8 741.2,497.2 737.3,497.2 733.4,498 735,488.7Z"/>
<path fill="#cdc6e6" d="M733.8,442.9 735.9,441.3 739.1,441.8 739.6,446.1 737,449.3 737.5,452.5 734.9,451.4 733.3,447.2Z"/>
<path fill="#cdc6e6" d="M735.9,452.5 742.3,451.9 742.8,454.6 746.5,455.6 747.6,459.9 744.4,461 741.2,463.1 738.6,462 738,457.8Z"/>
<path fill="#cdc6e6" d="M738.6,467.3 744.4,463.1 748.1,463.1 748.7,469.4 746.5,471.6 743.4,469.4 739.1,468.9Z"/>
<path fill="#cdc6e6" d="M727.4,464.7 733.3,458.3 732.2,461 728.5,465.2Z"/>
<path fill="#cdc6e6" d="M726,505 732,504 738,506 731,507Z"/>
<path fill="#cdc6e6" d="M742,506 748,505 746,508Z"/>
<path fill="#cdc6e6" d="M752,501 757,500 756,503Z"/>
<path fill="#cdc6e6" d="M759.1,487.1 765.3,485.6 768.4,488.7 774.7,488.7 783.2,491.8 783.2,505.8 774.7,504.2 770,499.5 765.3,493.3 762.2,490.2Z"/>
<path fill="#cdc6e6" d="M741,503 746,501.5 751,502 747,504Z"/>
<path fill="#dcd8f0" d="M734.3,430.2 736.5,423.8 738.6,424.3 737,430.7Z"/>
<path fill="#cdc6e6" d="M706,437 711,436 711,441 707,442Z"/>
<path fill="#eceefc" d="M783.2,491.8 793.3,494.9 799.5,499.5 801.1,504.2 805.8,510.4 793.3,505.8 787.1,504.2 783.2,505.8Z"/>
<path fill="#cdc6e6" d="M799.5,498 807.3,491.8 810.4,494.9 805.8,498Z"/>
<path fill="#cdc6e6" d="M751,486 753,485 753.5,489 751.5,488.5Z"/>
<path fill="#cdc6e6" d="M748,493.5 754,493 759,494 753,495Z"/>
<path fill="#8a76b8" d="M719.6,537.4 727.4,532.8 736.8,529.6 739.9,525 749.3,518.7 755.5,519.5 761.8,511.7 772.7,514 771.1,520.3 782,526.5 785.2,511.7 789.8,515.6 796.1,529.6 805.4,537.4 811.7,551.5 811.1,560 811.1,563.6 807.6,568 804,576 802.2,581.3 795.1,584 792.4,581.8 788.9,584 784.4,583.1 780.9,580.4 780,576 777.3,573.3 775.6,567.1 770.2,571.6 766.7,566.7 761.3,564 756,563.6 747.1,565.3 740,568.9 730.6,570.2 724.3,571.8 721.2,568.6 718.1,559.3 718.1,546.8 718.9,539Z"/>
<path fill="#8a76b8" d="M791.6,590.2 795.1,591.1 799.6,589.8 799.6,598.2 796.9,600 793.3,597.3Z"/>
<path fill="#aca0d2" d="M856.6,572.2 860,573.3 862.3,576.4 864.2,577.9 864.9,580.2 870.6,580.5 869.8,584.7 866.8,587 865.3,590.8 863.4,592.3 861.9,590 862.3,587 859.6,585.5 860,583.9 862.3,582.8 861.5,579.4 859.2,576.4Z"/>
<path fill="#aca0d2" d="M857.7,589.2 860,590 860.8,593.8 858.5,598.3 857.7,600.6 853.9,602.9 852.4,607.4 848.6,609.7 843.3,608.2 842.6,605.9 846.4,602.1 851.7,597.6 854.7,593.8 857,591.5Z"/>
<path fill="#cdc6e6" d="M838,533 842,532 845,537 841,536Z"/>
<path fill="#cdc6e6" d="M868,527 874,524 871,529Z"/>
<path fill="#cdc6e6" d="M818,512 821,510 823,514Z"/>
<path fill="#cdc6e6" d="M845,516 848,515 849,520Z"/>
<path fill="#eceef1" d="M236.6,359.1 240.1,356.4 242.8,354.2 246.3,353.3 250.8,356 252.6,359.6 254.3,361.8 250.8,362.2 247.2,361.3 242.8,360 238.3,360.4Z"/><path fill="#eceef1" d="M246.3,364 251.7,364 250.8,367.6 249,373.8 248.1,377.3 246.3,377.3 245.9,368.4Z"/><path fill="#eceef1" d="M254.3,363.1 260.6,362.2 264.1,365.8 262.3,367.6 259.7,367.6 258.8,371.1 256.1,369.3Z"/><path fill="#eceef1" d="M257,376.4 262.3,373.8 265.9,372.9 264.1,375.1 258.8,377.3Z"/><path fill="#eceef1" d="M265.9,371.1 271.2,369.3 273,370.7 269.4,372Z"/><path fill="#eef0f2" d="M563.3,364 568,361.3 572.7,360 576.7,362 574.7,365.3 570.7,368 570.7,373.3 574,377.3 578.7,378.7 577.3,384 578,390.7 573.3,392 569.3,388 568,382.7 566.7,377.3 564,370.7Z"/>
</g>
</svg>
<div class="tx t">Popularity of Natural Breasts</div>
<div class="tx st">Based on the proportion of all searches in each country</div>
<div class="tx logo1">Porn</div>
<div class="logobox"></div>
<div class="tx logo2">hub</div>
<div class="bar"></div>
<div class="tx lg1" style="left:75.6px;top:422.4px;transform:scaleX(1.084)">MORE</div>
<div class="tx lg2" style="left:75.6px;top:438.6px;transform:scaleX(1.129)">SEARCHES</div>
<div class="tx lg1" style="left:75.6px;top:547.4px;transform:scaleX(1.027)">LESS</div>
<div class="tx lg2" style="left:75.6px;top:563.6px;transform:scaleX(1.129)">SEARCHES</div>
<div class="tx ft">pornhub.com/insights</div>
</body></html>
